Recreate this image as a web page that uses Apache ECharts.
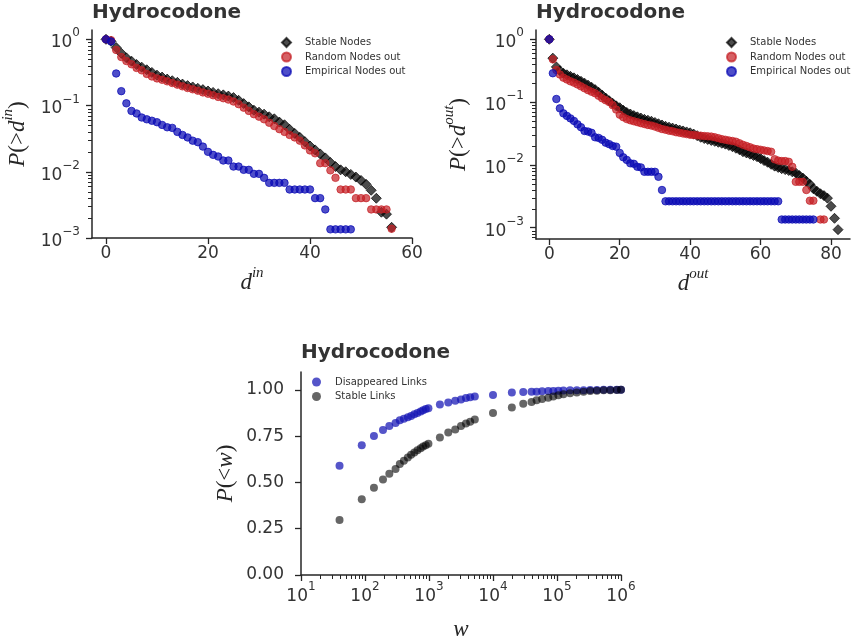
<!DOCTYPE html>
<html><head><meta charset="utf-8">
<script src="https://cdn.jsdelivr.net/npm/echarts@6/dist/echarts.min.js"></script>
<style>html,body{margin:0;padding:0;background:#fff}#c{width:855px;height:642px}</style>
</head><body><div id="c"></div>
<script>
// ---------------- data ----------------
const inDegStable = [0,1,2,3,4,5,6,7,8,9,10,11,12,13,14,15,16,17,18,19,20,21,22,23,24,25,26,27,28,29,30,31,32,33,34,35,36,37,38,39,40,41,42,43,44,45,46,47,48,49,50,51,52,53,54,55,56];
const inPStable = [1.0,0.933,0.750,0.617,0.525,0.468,0.417,0.380,0.347,0.316,0.288,0.269,0.251,0.237,0.224,0.211,0.200,0.191,0.182,0.174,0.166,0.158,0.151,0.145,0.139,0.132,0.120,0.107,0.0955,0.0851,0.0794,0.0741,0.0676,0.0631,0.0562,0.0513,0.0437,0.0380,0.0331,0.0285,0.0245,0.0214,0.0186,0.0162,0.0138,0.0120,0.0107,0.0100,0.00912,0.00832,0.00741,0.00646,0.00525,0.00398,0.00245,0.00229,0.00145];
const inDegRandom = [0,1,2,3,4,5,6,7,8,9,10,11,12,13,14,15,16,17,18,19,20,21,22,23,24,25,26,27,28,29,30,31,32,33,34,35,36,37,38,39,40,41,42,43,44,45,46,47,48,49,50,51,52,53,54,55,56];
const inPRandom = [1.0,0.97,0.69,0.54,0.47,0.42,0.37,0.34,0.30,0.275,0.257,0.245,0.232,0.219,0.207,0.195,0.184,0.176,0.168,0.158,0.151,0.143,0.135,0.129,0.123,0.115,0.105,0.093,0.083,0.074,0.068,0.062,0.055,0.049,0.044,0.040,0.036,0.033,0.0295,0.025,0.021,0.019,0.0135,0.0135,0.0105,0.0081,0.0054,0.0054,0.0054,0.0040,0.0040,0.0040,0.0027,0.0027,0.0027,0.0027,0.00138];
const inDegEmpirical = [0,1,2,3,4,5,6,7,8,9,10,11,12,13,14,15,16,17,18,19,20,21,22,23,24,25,26,27,28,29,30,31,32,33,34,35,36,37,38,39,40,41,42,43,44,45,46,47,48];
const inPEmpirical = [1.0,0.93,0.305,0.165,0.108,0.083,0.076,0.066,0.062,0.059,0.056,0.051,0.047,0.046,0.040,0.036,0.033,0.0295,0.028,0.024,0.020,0.018,0.017,0.0148,0.0148,0.012,0.012,0.0107,0.0107,0.0093,0.0093,0.0081,0.0068,0.0068,0.0068,0.0068,0.0054,0.0054,0.0054,0.0054,0.0054,0.0040,0.0040,0.0027,0.00135,0.00135,0.00135,0.00135,0.00135];

const outDegStable = [0,1,2,3,4,5,6,7,8,9,10,11,12,13,14,15,16,17,18,19,20,21,22,23,24,25,26,27,28,29,30,31,32,33,34,35,36,37,38,39,40,41,42,43,44,45,46,47,48,49,50,51,52,53,54,55,56,57,58,59,60,61,62,63,64,65,66,67,68,69,70,71,72,73,74,75,76,77,78,79,80,81,82];
const outPStable = [1.0,0.501,0.363,0.316,0.288,0.272,0.257,0.243,0.229,0.214,
0.200,0.186,0.172,0.158,0.143,0.129,0.116,0.105,0.0955,0.0871,
0.0813,0.0741,0.0684,0.0646,0.0610,0.0582,0.0556,0.0531,0.0513,0.0495,
0.0473,0.0452,0.0432,0.0412,0.0398,0.0385,0.0372,0.0359,0.0347,0.0335,
0.0324,0.0309,0.0292,0.0275,0.0263,0.0254,0.0245,0.0237,0.0229,0.0221,
0.0214,0.0204,0.0195,0.0184,0.0174,0.0162,0.0155,0.0148,0.0141,0.0135,
0.0126,0.0117,0.0110,0.0102,0.00955,0.00912,0.00871,0.00841,0.00813,0.00776,
0.00741,0.00676,0.00617,0.00550,0.00490,0.00417,0.00380,0.00347,0.00324,0.00295,
0.00219,0.00141,0.00093];
const outDegRandom = [0,1,2,3,4,5,6,7,8,9,10,11,12,13,14,15,16,17,18,19,20,21,22,23,24,25,26,27,28,29,30,31,32,33,34,35,36,37,38,39,40,41,42,43,44,45,46,47,48,49,50,51,52,53,54,55,56,57,58,59,60,61,62,63,64,65,66,67,68,69,70,71,72,73,74,75,77,78];
const outPRandom = [1.0,0.479,0.324,0.275,0.245,0.229,0.214,0.204,0.191,0.178,
0.166,0.155,0.146,0.138,0.126,0.115,0.107,0.100,0.0891,0.0759,
0.0631,0.0575,0.0537,0.0513,0.0495,0.0479,0.0462,0.0447,0.0432,0.0422,
0.0407,0.0389,0.0372,0.0363,0.0351,0.0343,0.0331,0.0324,0.0316,0.0309,
0.0302,0.0299,0.0295,0.0292,0.0288,0.0285,0.0282,0.0275,0.0266,0.0257,
0.0251,0.0245,0.0240,0.0234,0.0221,0.0209,0.0200,0.0191,0.0182,0.0178,
0.0174,0.0170,0.0166,0.0162,0.0123,0.0117,0.0115,0.0115,0.0112,0.00933,
0.00537,0.00537,0.00537,0.00398,0.00269,0.00269,
0.00135,0.00135];
const outDegEmpirical = [0,1,2,3,4,5,6,7,8,9,10,11,12,13,14,15,16,17,18,19,20,21,22,23,24,25,26,27,28,29,30,31,32,33,34,35,36,37,38,39,40,41,42,43,44,45,46,47,48,49,50,51,52,53,54,55,56,57,58,59,60,61,62,63,64,65,66,67,68,69,70,71,72,73,74,75];
const outPEmpirical = [1.0,0.288,0.112,0.0794,0.0661,0.0603,0.0550,0.0501,0.0442,0.0398,
0.0347,0.0339,0.0324,0.0275,0.0269,0.0251,0.0226,0.0214,0.0200,0.0195,
0.0155,0.0132,0.0120,0.0106,0.0104,0.00933,0.00912,0.00776,0.00776,0.00776,
0.00776,0.00646,0.00398,
0.00263,0.00263,0.00263,0.00263,0.00263,0.00263,0.00263,0.00263,0.00263,0.00263,0.00263,
0.00263,0.00263,0.00263,0.00263,0.00263,0.00263,0.00263,0.00263,0.00263,0.00263,0.00263,
0.00263,0.00263,0.00263,0.00263,0.00263,0.00263,0.00263,0.00263,0.00263,0.00263,0.00263,
0.00135,0.00135,0.00135,0.00135,0.00135,0.00135,0.00135,0.00135,0.00135,0.00135];

const linkWeights = [40,89,138,191,240,300,350,405,467,525,590,660,740,810,890,980,1480,2000,2570,3160,3780,4400,5200,10000,19700,29700,40000,48000,58500,73000,87500,105000,126000,160000,204000,260000,330000,420000,535000,680000,860000,1000000];
const disappearedP = [0.59,0.70,0.75,0.783,0.804,0.82,0.835,0.843,0.852,0.859,0.868,0.875,0.883,0.89,0.896,0.90,0.92,0.932,0.941,0.948,0.955,0.96,0.964,0.972,0.985,0.988,0.99,0.99,0.992,0.993,0.994,0.995,0.996,0.997,0.998,0.998,0.999,0.999,0.9995,1.0,1.0,1.0];
const stableLinkP = [0.297,0.409,0.471,0.516,0.546,0.572,0.599,0.617,0.634,0.649,0.662,0.674,0.685,0.694,0.701,0.708,0.742,0.769,0.786,0.804,0.818,0.827,0.84,0.875,0.905,0.925,0.934,0.943,0.95,0.957,0.964,0.971,0.976,0.981,0.985,0.989,0.993,0.995,0.997,0.998,0.999,1.0];

const degTicksIn = [0,20,40,60];
const degTicksOut = [0,20,40,60,80];
const pTicksLog = [0.001,0.01,0.1,1];
const pMinorIn = [0.002,0.003,0.004,0.005,0.006,0.007,0.008,0.009,0.02,0.03,0.04,0.05,0.06,0.07,0.08,0.09,0.2,0.3,0.4,0.5,0.6,0.7,0.8,0.9];
const pMinorOut = [0.0007,0.0008,0.0009,0.002,0.003,0.004,0.005,0.006,0.007,0.008,0.009,0.02,0.03,0.04,0.05,0.06,0.07,0.08,0.09,0.2,0.3,0.4,0.5,0.6,0.7,0.8,0.9];
const wTicks = [10,100,1000,10000,100000,1000000];
const wMinor = [20,30,40,50,60,70,80,90,200,300,400,500,600,700,800,900,2000,3000,4000,5000,6000,7000,8000,9000,20000,30000,40000,50000,60000,70000,80000,90000,200000,300000,400000,500000,600000,700000,800000,900000];
const cdfTicks = [0,0.25,0.5,0.75,1.0];

// axis ranges
const inDegMin = -2.74, inDegMax = 60, inPMin = 0.001, inPMax = 1.383;
const outDegMin = -3.78, outDegMax = 85.4, outPMin = 0.00066, outPMax = 1.406;
const wMin = 10, wMax = 1000000, cdfMin = 0, cdfMax = 1.096;

// ---------------- styling ----------------
const FONT = "'DejaVu Sans', sans-serif";
const SERIF = "'Liberation Serif', 'DejaVu Serif', serif";
const TXT = '#333333';
const AX = '#262626';

const supRich = {
  b: {fontFamily: FONT, fontSize: 17, color: TXT, verticalAlign: 'bottom', lineHeight: 24},
  s: {fontFamily: FONT, fontSize: 12, color: TXT, verticalAlign: 'top', lineHeight: 15}
};
const nameRich = {
  i: {fontFamily: SERIF, fontStyle: 'italic', fontSize: 23, color: AX, verticalAlign: 'bottom', lineHeight: 28},
  n: {fontFamily: SERIF, fontSize: 23, color: AX, verticalAlign: 'bottom', lineHeight: 28},
  s: {fontFamily: SERIF, fontStyle: 'italic', fontSize: 15, color: AX, verticalAlign: 'top', lineHeight: 21}
};
function powLabel(v) {
  const e = Math.round(Math.log10(v));
  return '{b|10}{s|' + String(e).replace('-', '\u2212') + '}';
}
const axLine = {show: true, onZero: false, lineStyle: {color: AX, width: 1.5}};
const majTick = (vals) => ({show: true, inside: false, length: 6, customValues: vals, lineStyle: {color: AX, width: 1.3}});

function pairs(xs, ys) { return xs.map((x, i) => [x, ys[i]]); }

const C_BLACK = '#000000', C_RED = '#c41e24', C_BLUE = '#0a0ab4';

function nodeSeries(xi, yi, degS, pS, degR, pR, degE, pE) {
  return [
    {type: 'scatter', name: 'Stable Nodes', xAxisIndex: xi, yAxisIndex: yi, symbol: 'diamond', symbolSize: 10,
     data: pairs(degS, pS), itemStyle: {color: C_BLACK, opacity: 0.7, borderColor: C_BLACK, borderWidth: 1}},
    {type: 'scatter', name: 'Random Nodes out', xAxisIndex: xi, yAxisIndex: yi, symbol: 'circle', symbolSize: 7.5,
     data: pairs(degR, pR), itemStyle: {color: C_RED, opacity: 0.7, borderColor: C_RED, borderWidth: 1}},
    {type: 'scatter', name: 'Empirical Nodes out', xAxisIndex: xi, yAxisIndex: yi, symbol: 'circle', symbolSize: 7.5,
     data: pairs(degE, pE), itemStyle: {color: C_BLUE, opacity: 0.72, borderColor: C_BLUE, borderWidth: 1}}
  ];
}

const titleStyle = {fontFamily: FONT, fontWeight: 'bold', fontSize: 20, color: TXT};
const legendBase = {orient: 'vertical', itemWidth: 27, itemHeight: 9, itemGap: 3.5, padding: 0,
  textStyle: {fontFamily: FONT, fontSize: 10, color: TXT}, selectedMode: false};
const DIAMOND = 'path://M5,0L10,5L5,10L0,5Z';
const nodeLegendData = [{name: 'Stable Nodes', icon: DIAMOND}, {name: 'Random Nodes out', icon: 'circle'}, {name: 'Empirical Nodes out', icon: 'circle'}];

const option = {
  animation: false,
  backgroundColor: '#ffffff',
  title: [
    {text: 'Hydrocodone', left: 92, top: 3, padding: 0, textStyle: titleStyle},
    {text: 'Hydrocodone', left: 536, top: 3, padding: 0, textStyle: titleStyle},
    {text: 'Hydrocodone', left: 301, top: 343, padding: 0, textStyle: titleStyle}
  ],
  legend: [
    Object.assign({}, legendBase, {left: 281, top: 37, data: nodeLegendData}),
    Object.assign({}, legendBase, {left: 726, top: 37, data: nodeLegendData}),
    Object.assign({}, legendBase, {left: 312, top: 377, itemGap: 4.5, data: [{name: 'Disappeared Links', icon: 'circle'}, {name: 'Stable Links', icon: 'circle'}]})
  ],
  grid: [
    {left: 92, top: 30, width: 320, height: 208},
    {left: 536, top: 30, width: 314, height: 209},
    {left: 301, top: 372, width: 320, height: 205}
  ],
  xAxis: [
    {type: 'value', gridIndex: 0, position: 'bottom', min: inDegMin, max: inDegMax, axisLine: axLine, axisTick: majTick(degTicksIn),
     axisLabel: {customValues: degTicksIn, margin: 7, fontFamily: FONT, fontSize: 17, color: TXT},
     splitLine: {show: false},
     name: '{i|d}{s|in}', nameLocation: 'middle', nameGap: 28, nameTextStyle: {rich: nameRich}},
    {type: 'value', gridIndex: 1, position: 'bottom', min: outDegMin, max: outDegMax, axisLine: axLine, axisTick: majTick(degTicksOut),
     axisLabel: {customValues: degTicksOut, margin: 7, fontFamily: FONT, fontSize: 17, color: TXT},
     splitLine: {show: false},
     name: '{i|d}{s|out}', nameLocation: 'middle', nameGap: 28, nameTextStyle: {rich: nameRich}},
    {type: 'log', gridIndex: 2, position: 'bottom', min: wMin, max: wMax, axisLine: axLine, axisTick: majTick(wTicks),
     axisLabel: {customValues: wTicks, margin: 6, formatter: powLabel, rich: supRich},
     splitLine: {show: false}, minorTick: {show: false},
     name: '{i|w}', nameLocation: 'middle', nameGap: 38, nameTextStyle: {rich: nameRich}}
  ],
  yAxis: [
    {type: 'log', gridIndex: 0, position: 'left', min: inPMin, max: inPMax, axisLine: axLine, axisTick: majTick(pTicksLog),
     axisLabel: {customValues: pTicksLog, margin: 12, formatter: powLabel, rich: supRich},
     splitLine: {show: false},
     name: '{i|P}{n|(>}{i|d}{s|in}{n|)}', nameLocation: 'middle', nameRotate: 90, nameGap: 63, nameTextStyle: {rich: nameRich}},
    {type: 'log', gridIndex: 1, position: 'left', min: outPMin, max: outPMax, axisLine: axLine, axisTick: majTick(pTicksLog),
     axisLabel: {customValues: pTicksLog, margin: 12, formatter: powLabel, rich: supRich},
     splitLine: {show: false},
     name: '{i|P}{n|(>}{i|d}{s|out}{n|)}', nameLocation: 'middle', nameRotate: 90, nameGap: 66, nameTextStyle: {rich: nameRich}},
    {type: 'value', gridIndex: 2, position: 'left', min: cdfMin, max: cdfMax, axisLine: axLine, axisTick: majTick(cdfTicks),
     axisLabel: {customValues: cdfTicks, margin: 17, fontFamily: FONT, fontSize: 17, color: TXT, formatter: v => v.toFixed(2)},
     splitLine: {show: false},
     name: '{i|P}{n|(<}{i|w}{n|)}', nameLocation: 'middle', nameRotate: 90, nameGap: 64, nameTextStyle: {rich: nameRich}}
  ],
  series: [].concat(
    nodeSeries(0, 0, inDegStable, inPStable, inDegRandom, inPRandom, inDegEmpirical, inPEmpirical),
    nodeSeries(1, 1, outDegStable, outPStable, outDegRandom, outPRandom, outDegEmpirical, outPEmpirical),
    [
      {type: 'scatter', name: 'Disappeared Links', xAxisIndex: 2, yAxisIndex: 2, symbol: 'circle', symbolSize: 8,
       data: pairs(linkWeights, disappearedP), itemStyle: {color: '#1414b4', opacity: 0.72}},
      {type: 'scatter', name: 'Stable Links', xAxisIndex: 2, yAxisIndex: 2, symbol: 'circle', symbolSize: 8,
       data: pairs(linkWeights, stableLinkP), itemStyle: {color: '#000000', opacity: 0.6}}
    ]
  )
};

const chart = echarts.init(document.getElementById('c'), null, {renderer: 'canvas'});
chart.setOption(option);

// minor ticks: positions obtained from the library's own axis scales
const minorEls = [];
function addMinorY(xi, yi, xAt, vals) {
  vals.forEach(v => {
    const p = chart.convertToPixel({xAxisIndex: xi, yAxisIndex: yi}, [xAt, v]);
    if (!p) return;
    const y = Math.round(p[1]) + 0.5;
    minorEls.push({type: 'line', silent: true, z: 100,
      shape: {x1: p[0] - 4, y1: y, x2: p[0], y2: y}, style: {stroke: AX, lineWidth: 1}});
  });
}
function addMinorX(xi, yi, yAt, vals) {
  vals.forEach(v => {
    const p = chart.convertToPixel({xAxisIndex: xi, yAxisIndex: yi}, [v, yAt]);
    if (!p) return;
    const x = Math.round(p[0]) + 0.5;
    minorEls.push({type: 'line', silent: true, z: 100,
      shape: {x1: x, y1: p[1], x2: x, y2: p[1] + 4}, style: {stroke: AX, lineWidth: 1}});
  });
}
addMinorY(0, 0, inDegMin, pMinorIn);
addMinorY(1, 1, outDegMin, pMinorOut);
addMinorX(2, 2, cdfMin, wMinor);
chart.setOption({graphic: {elements: minorEls}});
</script>
</body></html>
